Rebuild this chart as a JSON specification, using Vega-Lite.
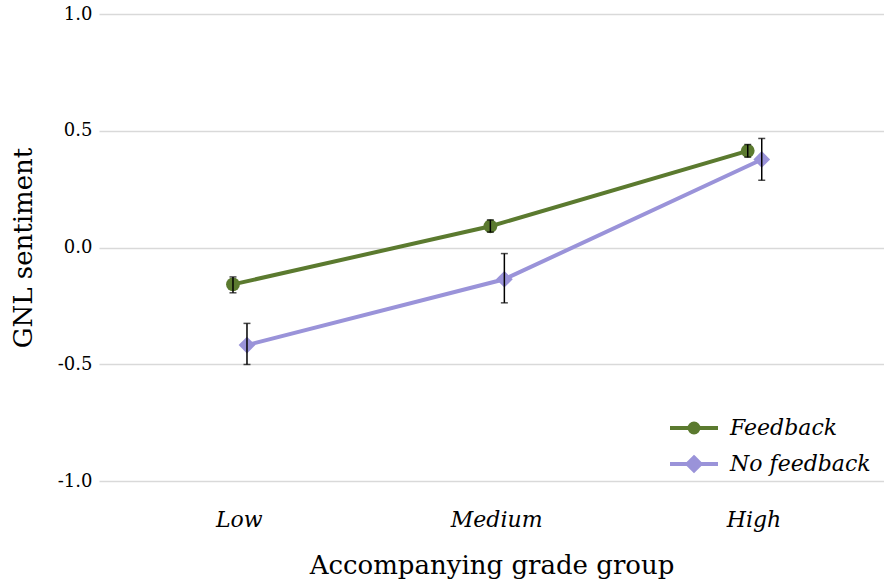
{
  "$schema": "https://vega.github.io/schema/vega-lite/v6.json",
  "width": 785,
  "height": 467,
  "autosize": "none",
  "padding": {"left": 99, "top": 14, "right": 0, "bottom": 107},
  "background": "white",
  "config": {
    "view": {"stroke": null},
    "font": "DejaVu Serif"
  },
  "data": {
    "values": [
      {"group": "Low", "series": "Feedback", "mean": -0.158, "lo": -0.194, "hi": -0.126},
      {"group": "Medium", "series": "Feedback", "mean": 0.091, "lo": 0.066, "hi": 0.118},
      {"group": "High", "series": "Feedback", "mean": 0.414, "lo": 0.387, "hi": 0.441},
      {"group": "Low", "series": "No feedback", "mean": -0.418, "lo": -0.501, "hi": -0.325},
      {"group": "Medium", "series": "No feedback", "mean": -0.136, "lo": -0.237, "hi": -0.026},
      {"group": "High", "series": "No feedback", "mean": 0.377, "lo": 0.288, "hi": 0.467}
    ]
  },
  "encoding": {
    "x": {
      "field": "group", "type": "nominal", "sort": ["Low", "Medium", "High"],
      "scale": {"paddingInner": 0, "paddingOuter": 0.025, "align": 0.9},
      "axis": {
        "title": "Accompanying grade group", "titleFontSize": 26, "titleFontWeight": "normal",
        "titleFont": "DejaVu Serif", "titleColor": "#000", "titlePadding": 22,
        "labelFont": "DejaVu Serif", "labelFontStyle": "italic", "labelFontSize": 22,
        "labelColor": "#000", "labelPadding": 28, "labelAngle": 0,
        "domain": false, "ticks": false, "grid": false
      }
    },
    "xOffset": {"field": "series", "type": "nominal", "scale": {"paddingInner": 0, "paddingOuter": 0, "range": [115.4, 143.4]}}
  },
  "layer": [
    {
      "mark": {"type": "line", "strokeWidth": 4},
      "encoding": {
        "y": {
          "field": "mean", "type": "quantitative",
          "scale": {"domain": [-1, 1], "nice": false, "zero": false},
          "axis": {
            "values": [-1, -0.5, 0, 0.5, 1],
            "labelExpr": "datum.value < 0 ? '-' + format(-datum.value, '.1f') : format(datum.value, '.1f')",
            "title": "GNL sentiment", "titleFontSize": 26, "titleFontWeight": "normal",
            "titleFont": "DejaVu Serif", "titleColor": "#000", "titlePadding": 21,
            "labelFont": "DejaVu Serif", "labelFontSize": 18, "labelColor": "#000", "labelPadding": 7,
            "domain": false, "ticks": false, "grid": true, "gridColor": "#d9d9d9", "gridWidth": 1.5
          }
        },
        "color": {
          "field": "series", "type": "nominal",
          "scale": {"domain": ["Feedback", "No feedback"], "range": ["#5b7a2f", "#9a93d9"]},
          "legend": {
            "orient": "none", "legendX": 583, "legendY": 402, "title": null, "padding": 0,
            "labelFont": "DejaVu Serif", "labelFontStyle": "italic", "labelFontSize": 22,
            "labelColor": "#000", "labelOffset": 24, "symbolSize": 400, "rowPadding": 8,
            "labelLimit": 300,
            "encode": {
              "symbols": {
                "update": {
                  "shape": {"signal": "datum.value === 'Feedback' ? 'M-2.4,0H2.4M0.45,0A0.45,0.45,0,1,1,-0.45,0A0.45,0.45,0,1,1,0.45,0Z' : 'M-2.4,0H2.4M0,-0.65L0.65,0L0,0.65L-0.65,0Z'"},
                  "fill": {"signal": "datum.value === 'Feedback' ? '#5b7a2f' : '#9a93d9'"},
                  "stroke": {"signal": "datum.value === 'Feedback' ? '#5b7a2f' : '#9a93d9'"},
                  "strokeWidth": {"value": 4},
                  "opacity": {"value": 1}
                }
              }
            }
          }
        }
      }
    },
    {
      "mark": {
        "type": "point", "filled": true, "opacity": 1,
        "shape": {"expr": "datum.series === 'Feedback' ? 'circle' : 'diamond'"},
        "size": {"expr": "datum.series === 'Feedback' ? 190 : 280"}
      },
      "encoding": {
        "y": {"field": "mean", "type": "quantitative"},
        "color": {"field": "series", "type": "nominal"}
      }
    },
    {
      "mark": {"type": "rule", "color": "#000", "strokeWidth": 1.5},
      "encoding": {
        "y": {"field": "lo", "type": "quantitative"},
        "y2": {"field": "hi"}
      }
    },
    {
      "mark": {"type": "tick", "color": "#000", "thickness": 1.5, "size": 7, "orient": "horizontal"},
      "encoding": {"y": {"field": "lo", "type": "quantitative"}}
    },
    {
      "mark": {"type": "tick", "color": "#000", "thickness": 1.5, "size": 7, "orient": "horizontal"},
      "encoding": {"y": {"field": "hi", "type": "quantitative"}}
    }
  ]
}
